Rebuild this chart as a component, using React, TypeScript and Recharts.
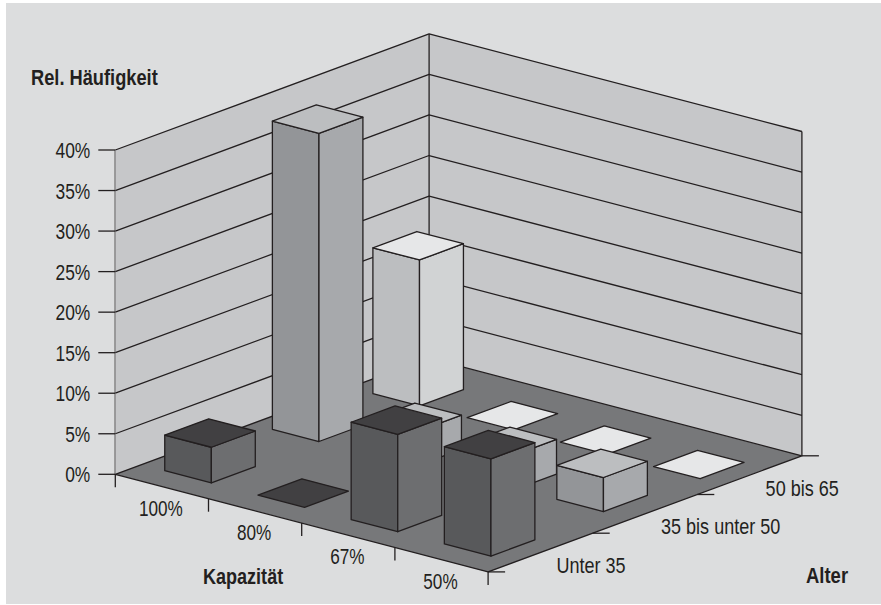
import React from 'react';
import { ScatterChart, Scatter, XAxis, YAxis } from 'recharts';

const kapazitaet = ['100%', '80%', '67%', '50%'];
const alter = ['Unter 35', '35 bis unter 50', '50 bis 65'];
const valueTicks = [0, 5, 10, 15, 20, 25, 30, 35, 40];
const unter35 = [4.4, 0, 12, 12];
const bis50 = [38, 4.2, 4.3, 4.2];
const bis65 = [18, 0, 0, 0];

const INK = '#231f20';
const FONT = '"Liberation Sans", Arial, sans-serif';
const W = 881, H = 605;
const ORIGIN = { x: 115.3, y: 474.3 };
const U = { x: 93.2, y: 24.4 };
const D = { x: 104.6, y: -38.7 };
const LEVEL_TOP = 150;
const BAR_U = 0.5, BAR_W = 0.42;
const floorPt = (u: number, w: number) => ({ x: ORIGIN.x + U.x * u + D.x * w, y: ORIGIN.y + U.y * u + D.y * w });
const pts = (list: { x: number; y: number }[]) => list.map((p) => `${p.x},${p.y}`).join(' ');

const palettes = [
  { left: '#58595b', right: '#6d6e70', top: '#414042' },
  { left: '#939598', right: '#a7a9ac', top: '#bcbec0' },
  { left: '#bcbec0', right: '#d1d3d4', top: '#e6e7e8' },
];
const seriesValues = [unter35, bis50, bis65];
const seriesAlong = [
  [0.25, 1.25, 2.25, 3.25],
  [0.223, 1.25, 2.27, 3.2],
  [0.25, 1.25, 2.25, 3.25],
];
const seriesDepth = [
  [0.25, 0.25, 0.25, 0.25],
  [1.303, 1.33, 1.33, 1.37],
  [2.24, 2.25, 2.25, 2.25],
];

const barRows = [2, 1, 0].flatMap((s) =>
  kapazitaet.map((_, k) => {
    const u = seriesAlong[s][k];
    const w = seriesDepth[s][k];
    return { sx: floorPt(u, w).x, value: seriesValues[s][k], u, w, s };
  }),
);
const gridRows = valueTicks.map((value) => ({ sx: ORIGIN.x, value }));
const floorRows = [{ sx: ORIGIN.x, value: 0 }];
const labelRows = [{ sx: ORIGIN.x, value: 0 }];

const stroke = { stroke: INK, strokeWidth: 1.3, strokeLinejoin: 'round' as const };

const Wall = (props: any) => {
  const { cx, cy, payload } = props;
  const depth = ORIGIN.y - cy;
  const back = floorPt(0, 3), right = floorPt(4, 3);
  if (payload.value === 0) return <g />;
  return <polyline points={`${cx},${cy} ${back.x},${back.y - depth} ${right.x},${right.y - depth}`} fill="none" {...stroke} />;
};

const Walls = (props: any) => {
  const { cy } = props;
  const h = ORIGIN.y - cy;
  const a = floorPt(0, 0), b = floorPt(0, 3), c = floorPt(4, 3);
  return (
    <g>
      <polygon points={pts([{ x: a.x, y: a.y - h }, { x: b.x, y: b.y - h }, b, a])} fill="#c6c7c9" />
      <polygon points={pts([{ x: b.x, y: b.y - h }, { x: c.x, y: c.y - h }, c, b])} fill="#c6c7c9" />
      <line x1={b.x} y1={b.y - h} x2={b.x} y2={b.y} {...stroke} />
      <line x1={c.x} y1={c.y - h} x2={c.x} y2={c.y} {...stroke} />
    </g>
  );
};

const Floor = () => {
  const corners = [floorPt(0, 0), floorPt(4, 0), floorPt(4, 3), floorPt(0, 3)];
  return <polygon points={pts(corners)} fill="#77787a" {...stroke} />;
};

const Prism = (props: any) => {
  const { cx, cy, payload } = props;
  const { u, w, s } = payload;
  const base = floorPt(u, w);
  const h = ORIGIN.y - cy;
  const du = { x: U.x * BAR_U, y: U.y * BAR_U };
  const dw = { x: D.x * BAR_W, y: D.y * BAR_W };
  const L = { x: cx, y: base.y };
  const F = { x: L.x + du.x, y: L.y + du.y };
  const R = { x: F.x + dw.x, y: F.y + dw.y };
  const B = { x: L.x + dw.x, y: L.y + dw.y };
  const up = (p: { x: number; y: number }) => ({ x: p.x, y: p.y - h });
  const c = palettes[s];
  return (
    <g>
      {h > 0 && <polygon points={pts([up(L), up(F), F, L])} fill={c.left} {...stroke} />}
      {h > 0 && <polygon points={pts([up(F), up(R), R, F])} fill={c.right} {...stroke} />}
      <polygon points={pts([up(L), up(F), up(R), up(B)])} fill={c.top} {...stroke} />
    </g>
  );
};

const Cond = ({ x, y, sx, anchor, bold, children }: any) => (
  <text
    transform={`translate(${x},${y}) scale(${sx},1)`}
    textAnchor={anchor || 'start'}
    fontFamily={FONT}
    fontSize={22}
    fontWeight={bold ? 700 : 400}
    fill={INK}
  >
    {children}
  </text>
);

const ValueTick = (props: any) => (
  <Cond x={props.x} y={props.y + 8} sx={0.79} anchor="end">{`${props.payload.value}%`}</Cond>
);

const Labels = () => (
  <g>
    {[0, 1, 2, 3, 4].map((k) => {
      const p = floorPt(k, 0);
      return <line key={k} x1={p.x} y1={p.y} x2={p.x} y2={p.y + 13} {...stroke} />;
    })}
    {[0, 1, 2, 3].map((k) => {
      const p = floorPt(4, k);
      return <line key={k} x1={p.x} y1={p.y} x2={p.x + 17} y2={p.y} {...stroke} />;
    })}
    {kapazitaet.map((t, k) => {
      const p = floorPt(k + 0.5, 0);
      return <Cond key={t} x={p.x - 1} y={p.y + 29} sx={0.78} anchor="middle">{t}</Cond>;
    })}
    {alter.map((t, k) => {
      const p = floorPt(4, k + 0.5);
      return <Cond key={t} x={p.x + 16} y={p.y + 20.5} sx={0.82}>{t}</Cond>;
    })}
    <Cond x={31} y={85} sx={0.83} bold>Rel. Häufigkeit</Cond>
    <Cond x={203} y={584} sx={0.82} bold>Kapazität</Cond>
    <Cond x={806} y={583} sx={0.84} bold>Alter</Cond>
  </g>
);

export default function App() {
  return (
    <div style={{ position: 'absolute', left: 0, top: 0, width: W, height: H, background: '#fff' }}>
      <div style={{ position: 'absolute', left: 6, top: 3, width: W - 6, height: H - 4, background: '#dcddde' }} />
      <div style={{ position: 'absolute', left: 0, top: 0 }}>
        <ScatterChart width={W} height={H} margin={{ top: LEVEL_TOP, bottom: H - ORIGIN.y, left: 0, right: W - floorPt(4, 3).x }}>
          <XAxis type="number" dataKey="sx" domain={[ORIGIN.x, floorPt(4, 3).x]} hide />
          <YAxis
            type="number"
            dataKey="value"
            domain={[0, 40]}
            ticks={valueTicks}
            width={ORIGIN.x}
            tickSize={17}
            tickMargin={8}
            interval={0}
            tick={<ValueTick />}
            axisLine={{ stroke: INK, strokeWidth: 1.3 }}
            tickLine={{ stroke: INK, strokeWidth: 1.3 }}
          />
          <Scatter data={[{ sx: ORIGIN.x, value: 40 }]} shape={Walls} isAnimationActive={false} />
          <Scatter data={gridRows} shape={Wall} isAnimationActive={false} />
          <Scatter data={floorRows} shape={Floor} isAnimationActive={false} />
          <Scatter data={barRows} shape={Prism} isAnimationActive={false} />
          <Scatter data={labelRows} shape={Labels} isAnimationActive={false} />
        </ScatterChart>
      </div>
    </div>
  );
}
